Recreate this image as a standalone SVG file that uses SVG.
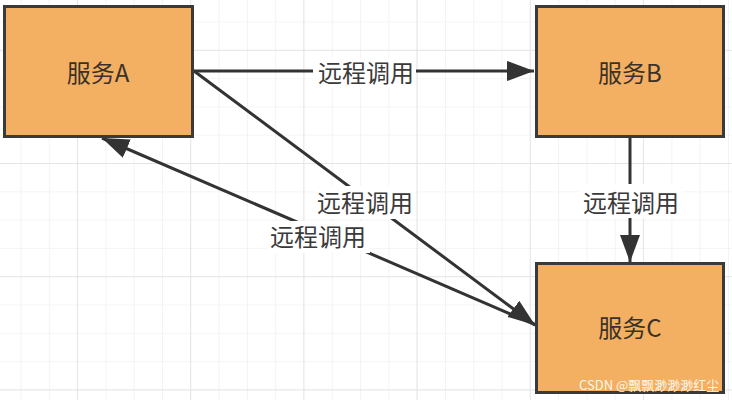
<svg xmlns="http://www.w3.org/2000/svg" width="732" height="400" viewBox="0 0 732 400">
  <defs>
    <pattern id="gridMinor" patternUnits="userSpaceOnUse" x="20.5" y="21.5" width="28.3" height="28.3">
      <path d="M0,0 H28.3 M0,0 V28.3" fill="none" stroke="#ececec" stroke-width="1.2"/>
    </pattern>
    <pattern id="gridMajor" patternUnits="userSpaceOnUse" x="76.9" y="49.8" width="113.2" height="113.2">
      <path d="M0,0 H113.2 M0,0 V113.2" fill="none" stroke="#e0e0e0" stroke-width="1.4"/>
    </pattern>
    <marker id="arrow" markerUnits="userSpaceOnUse" markerWidth="28" markerHeight="22" refX="27" refY="10" orient="auto">
      <path d="M0,0 L27,10 L0,20 Z" fill="#333333"/>
    </marker>
    <style>
      .box { fill: #f4b062; stroke: #3a3a3a; stroke-width: 3; }
      .boxtext { font-family: "Noto Sans CJK SC", "Noto Sans", sans-serif; font-size: 24px; fill: #3a3228; text-anchor: middle; }
      .edge { stroke: #333333; stroke-width: 3; fill: none; marker-end: url(#arrow); }
      .lblbg { fill: #ffffff; }
      .lbl { font-family: "Noto Sans CJK SC", "Noto Sans", sans-serif; font-size: 24px; fill: #3a3a3a; text-anchor: middle; }
      .wm { font-family: "Noto Sans CJK SC", "Noto Sans", sans-serif; font-size: 13px; fill: #ffffff; fill-opacity: 0.9; }
    </style>
  </defs>

  <rect x="0" y="0" width="732" height="400" fill="#ffffff"/>
  <rect x="0" y="0" width="732" height="400" fill="url(#gridMinor)"/>
  <rect x="0" y="0" width="732" height="400" fill="url(#gridMajor)"/>

  <g id="connectors">
    <g id="edge-a-b">
      <line class="edge" x1="194" y1="71" x2="534" y2="71"/>
      <rect class="lblbg" x="313" y="58" width="103" height="30"/>
      <text class="lbl" x="366" y="82">远程调用</text>
    </g>
    <g id="edge-b-c">
      <line class="edge" x1="630" y1="138" x2="630" y2="262"/>
      <rect class="lblbg" x="580" y="184" width="102" height="34"/>
      <text class="lbl" x="631" y="212">远程调用</text>
    </g>
    <g id="edge-a-c">
      <line class="edge" x1="194" y1="71" x2="535" y2="325"/>
    </g>
    <g id="edge-c-a">
      <line class="edge" x1="536" y1="325" x2="102" y2="138"/>
    </g>
    <g id="label-a-c">
      <rect class="lblbg" x="314" y="186" width="102" height="33"/>
      <text class="lbl" x="365" y="212">远程调用</text>
    </g>
    <g id="label-c-a">
      <rect class="lblbg" x="267" y="221" width="103" height="32"/>
      <text class="lbl" x="318" y="246">远程调用</text>
    </g>
  </g>

  <g id="node-a">
    <rect class="box" x="4.5" y="6.5" width="188" height="130"/>
    <text class="boxtext" x="98" y="82">服务A</text>
  </g>
  <g id="node-b">
    <rect class="box" x="536.5" y="6.5" width="187" height="130"/>
    <text class="boxtext" x="630" y="82">服务B</text>
  </g>
  <g id="node-c">
    <rect class="box" x="536.5" y="263.5" width="187" height="129"/>
    <text class="boxtext" x="630" y="337">服务C</text>
  </g>

  <text class="wm" x="579" y="390">CSDN @飘飘渺渺渺红尘</text>
</svg>
